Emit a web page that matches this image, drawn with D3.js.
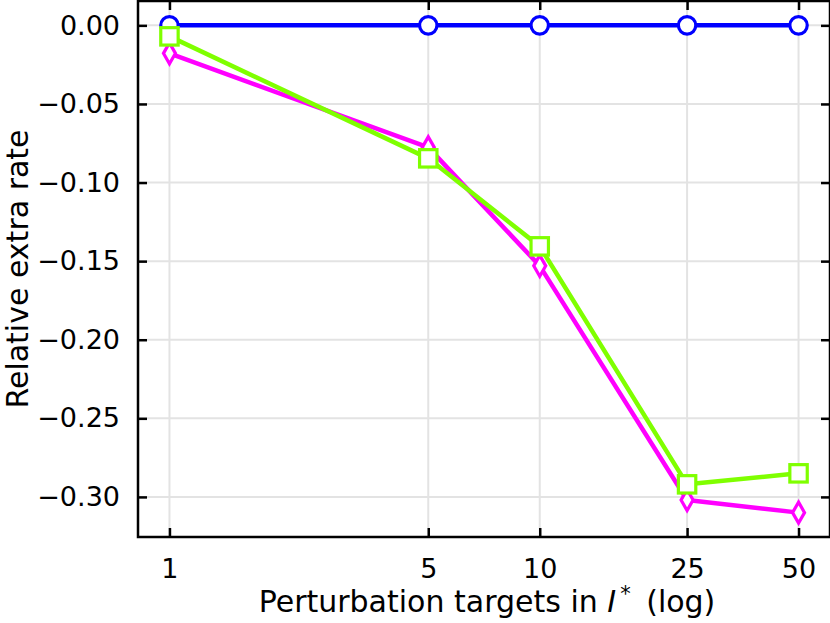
<!DOCTYPE html>
<html><head><meta charset="utf-8">
<script src="https://cdn.jsdelivr.net/npm/d3@7"></script>
<style>body{margin:0;background:#fff}svg{display:block}text{font-family:"DejaVu Sans",sans-serif;fill:#000}</style>
</head><body><svg id="c" width="830" height="623"></svg>
<script>
const xValues = [1, 5, 10, 25, 50];
const xTickLabels = ["1", "5", "10", "25", "50"];
const yTicks = [0, -0.05, -0.10, -0.15, -0.20, -0.25, -0.30];
const seriesBlue = [0, 0, 0, 0, 0];
const seriesMagenta = [-0.0178, -0.0776, -0.153, -0.302, -0.310];
const seriesGreen = [-0.007, -0.0846, -0.1406, -0.292, -0.285];

const svg = d3.select("#c");
const L = 138, R = 830, T = 1, B = 537;
const lx = d3.extent(xValues.map(Math.log10));
const mx = (lx[1]-lx[0])*0.05;
const x = d3.scaleLog().domain([Math.pow(10, lx[0]-mx), Math.pow(10, lx[1]+mx)]).range([L, R]);
const all = seriesBlue.concat(seriesMagenta, seriesGreen);
const ye = d3.extent(all); const my = (ye[1]-ye[0])*0.05;
const y = d3.scaleLinear().domain([ye[0]-my, ye[1]+my]).range([B, T]);

// grid
const g = svg.append("g");
g.selectAll(".gx").data(xValues).join("line").attr("x1", d=>x(d)).attr("x2", d=>x(d)).attr("y1", T).attr("y2", B).attr("stroke", "#e3e3e3").attr("stroke-width", 2);
g.selectAll(".gy").data(yTicks).join("line").attr("y1", d=>y(d)).attr("y2", d=>y(d)).attr("x1", L).attr("x2", R).attr("stroke", "#e3e3e3").attr("stroke-width", 2);

// series
const fmt = d3.format(".2f");
const series = [
  {vals: seriesBlue, color: "#0000ff", marker: "circle"},
  {vals: seriesMagenta, color: "#ff00ff", marker: "diamond"},
  {vals: seriesGreen, color: "#7fff00", marker: "square"}
];
const line = d3.line().x(d=>x(d[0])).y(d=>y(d[1]));
series.forEach(s => {
  const pts = xValues.map((v,i)=>[v, s.vals[i]]);
  svg.append("path").attr("d", line(pts)).attr("fill", "none").attr("stroke", s.color).attr("stroke-width", 4.5).attr("stroke-linejoin", "round");
  const mg = svg.append("g");
  pts.forEach(p => {
    const cx = x(p[0]), cy = y(p[1]);
    if (s.marker === "circle") mg.append("circle").attr("cx", cx).attr("cy", cy).attr("r", 8.7).attr("fill", "#fff").attr("stroke", s.color).attr("stroke-width", 3.2);
    else if (s.marker === "square") mg.append("rect").attr("x", cx-8.7).attr("y", cy-8.7).attr("width", 17.4).attr("height", 17.4).attr("fill", "#fff").attr("stroke", s.color).attr("stroke-width", 3.2);
    else mg.append("path").attr("d", `M${cx},${cy-10.5}L${cx+6},${cy}L${cx},${cy+10.5}L${cx-6},${cy}Z`).attr("fill", "#fff").attr("stroke", s.color).attr("stroke-width", 3.2);
  });
});

// spines
svg.append("rect").attr("x", L).attr("y", T).attr("width", R-L).attr("height", B-T).attr("fill", "none").attr("stroke", "#000").attr("stroke-width", 2.5);

// axes with inward ticks
const xa = d3.axisBottom(x).tickValues(xValues).tickFormat(d=>xTickLabels[xValues.indexOf(d)]).tickSizeInner(-9).tickSizeOuter(0).tickPadding(22);
const gx = svg.append("g").attr("transform", `translate(0,${B})`).call(xa);
gx.select(".domain").remove();
gx.selectAll("line").attr("stroke-width", 2.5);
gx.selectAll("text").style("font-size", "27px").style("font-family", "DejaVu Sans");
const xt = d3.axisTop(x).tickValues(xValues).tickFormat("").tickSizeInner(-9).tickSizeOuter(0);
const gxt = svg.append("g").attr("transform", `translate(0,${T})`).call(xt);
gxt.select(".domain").remove(); gxt.selectAll("line").attr("stroke-width", 2.5);

const ya = d3.axisLeft(y).tickValues(yTicks).tickFormat(d=>fmt(d).replace("-", "\u2212")).tickSizeInner(-9).tickSizeOuter(0).tickPadding(18);
const gy = svg.append("g").attr("transform", `translate(${L},0)`).call(ya);
gy.select(".domain").remove();
gy.selectAll("line").attr("stroke-width", 2.5);
gy.selectAll("text").style("font-size", "27px").style("font-family", "DejaVu Sans");
const yr = d3.axisRight(y).tickValues(yTicks).tickFormat("").tickSizeInner(-9).tickSizeOuter(0);
const gyr = svg.append("g").attr("transform", `translate(${R},0)`).call(yr);
gyr.select(".domain").remove(); gyr.selectAll("line").attr("stroke-width", 2.5);

// labels
const xl = svg.append("text").attr("x", 487).attr("y", 612).attr("text-anchor", "middle").style("font-size", "30px");
xl.append("tspan").text("Perturbation targets in ");
xl.append("tspan").style("font-style", "italic").text("I");
xl.append("tspan").attr("dx", 4).attr("dy", -11).style("font-size", "21px").text("*");
xl.append("tspan").attr("dx", 6).attr("dy", 11).text(" (log)");
svg.append("text").attr("transform", `translate(28,${(T+B)/2}) rotate(-90)`).attr("text-anchor", "middle").style("font-size", "30px").text("Relative extra rate");
</script></body></html>
